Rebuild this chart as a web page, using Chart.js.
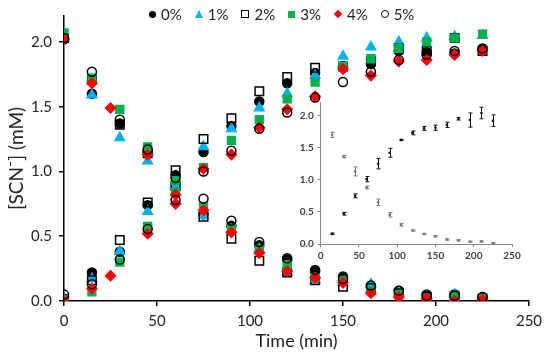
<!DOCTYPE html>
<html>
<head>
<meta charset="utf-8">
<script src="https://cdn.jsdelivr.net/npm/chart.js@4"></script>
<style>
  body { margin: 0; background: #fff; }
  #wrap { position: relative; width: 550px; height: 356px; }
  #main { position: absolute; left: 0; top: 0; }
  #inset { position: absolute; left: 280px; top: 92px; }
  #legend {
    position: absolute; left: 149px; top: 4px; display: flex; gap: 13px;
    font: 15px Lato, 'Open Sans', sans-serif; color: #222; line-height: 20px;
  }
  #legend .item { display: flex; align-items: center; }
  #legend .mk { width: 8px; height: 8px; margin-right: 5px; box-sizing: border-box; }
</style>
</head>
<body>
<div id="wrap">
  <canvas id="main" width="550" height="356"></canvas>
  <canvas id="inset" width="260" height="172"></canvas>
  <div id="legend"></div>
</div>
<script>
// sampling times (min); the 4% run has its third sample at 25 min
const time = [0, 15, 30, 45, 60, 75, 90, 105, 120, 135, 150, 165, 180, 195, 210, 225];
const time4 = [0, 15, 25, 45, 60, 75, 90, 105, 120, 135, 150, 165, 180, 195, 210, 225];

const labels = ["0%", "1%", "2%", "3%", "4%", "5%"];

// [SCN-] (mM), decaying branch
const decay0 = [2.02, 1.60, 1.37, 1.15, 0.97, 0.67, 0.58, 0.43, 0.32, 0.23, 0.19, 0.11, 0.08, 0.05, 0.05, 0.03];
const decay1 = [2.03, 1.59, 1.26, 1.08, 0.90, 0.66, 0.55, 0.40, 0.22, 0.16, 0.14, 0.13, 0.07, 0.04, 0.05, 0.02];
const decay2 = [2.03, 1.71, 1.36, 1.14, 1.01, 0.65, 0.48, 0.31, 0.22, 0.16, 0.11, 0.10, 0.06, 0.03, 0.04, 0.02];
const decay3 = [2.07, 1.72, 1.48, 1.19, 0.93, 0.73, 0.56, 0.40, 0.28, 0.18, 0.16, 0.08, 0.05, 0.02, 0.04, 0.02];
const decay4 = [2.02, 1.68, 1.49, 1.13, 0.82, 0.70, 0.53, 0.37, 0.23, 0.18, 0.14, 0.06, 0.03, 0.02, 0.00, 0.01];
const decay5 = [2.03, 1.77, 1.40, 1.17, 0.95, 0.79, 0.62, 0.455, 0.33, 0.24, 0.17, 0.12, 0.08, 0.04, 0.04, 0.03];

// [SCN-] (mM), forming branch
const form0 = [0.02, 0.22, 0.38, 0.74, 0.90, 1.15, 1.35, 1.54, 1.68, 1.76, 1.81, 1.83, 1.93, 1.92, 1.91, 1.94];
const form1 = [0.01, 0.17, 0.385, 0.69, 0.88, 1.19, 1.33, 1.49, 1.60, 1.74, 1.89, 1.96, 2.00, 2.03, 2.04, 2.05];
const form2 = [0.01, 0.16, 0.47, 0.76, 0.89, 1.25, 1.41, 1.62, 1.73, 1.80, 1.81, 1.85, 1.95, 1.93, 2.03, 1.93];
const form3 = [0.01, 0.07, 0.30, 0.575, 0.84, 1.03, 1.24, 1.40, 1.56, 1.69, 1.81, 1.87, 1.95, 2.00, 2.03, 2.06];
const form4 = [0.00, 0.095, 0.195, 0.52, 0.75, 1.02, 1.13, 1.34, 1.48, 1.58, 1.79, 1.74, 1.85, 1.86, 1.90, 1.93];
const form5 = [0.05, 0.13, 0.32, 0.555, 0.78, 1.00, 1.16, 1.33, 1.455, 1.57, 1.69, 1.77, 1.86, 1.90, 1.93, 1.95];

// inset: averages with error bars
const insetTime = [15, 30, 45, 60, 75, 90, 105, 120, 135, 150, 165, 180, 195, 210, 225];
const insetForm = [0.16, 0.47, 0.75, 1.01, 1.25, 1.42, 1.62, 1.73, 1.80, 1.81, 1.855, 1.95, 1.93, 2.04, 1.92];
const insetFormErr = [0.01, 0.02, 0.03, 0.04, 0.08, 0.07, 0.01, 0.03, 0.03, 0.04, 0.04, 0.02, 0.11, 0.09, 0.09];
const insetDecay = [1.70, 1.36, 1.13, 0.88, 0.65, 0.455, 0.30, 0.21, 0.155, 0.12, 0.07, 0.057, 0.036, 0.04, 0.015];
const insetDecayErr = [0.04, 0.02, 0.07, 0.02, 0.05, 0.035, 0.02, 0.01, 0.01, 0.01, 0.01, 0.01, 0.01, 0.01, 0.005];

const FONT = "Lato, 'Open Sans', sans-serif";
const TXT = "#222";

const decays = [decay0, decay1, decay2, decay3, decay4, decay5];
const forms = [form0, form1, form2, form3, form4, form5];
const styles = [
  { pointStyle: "circle", radius: 4.5, bg: "#000", border: "#000" },
  { pointStyle: "triangle", radius: 5.5, bg: "#00B0F0", border: "#00B0F0" },
  { pointStyle: "rect", radius: 6, bg: "rgba(0,0,0,0)", border: "#000" },
  { pointStyle: "rect", radius: 5.5, bg: "#00B050", border: "#00B050" },
  { pointStyle: "rectRot", radius: 5, bg: "#FF0000", border: "#FF0000" },
  { pointStyle: "circle", radius: 4.5, bg: "rgba(0,0,0,0)", border: "#000" },
];

// css for the html legend markers, same order as labels
const legendCss = [
  "background:#000;border-radius:50%;width:7px;height:7px",
  "width:0;height:0;border-left:4.5px solid transparent;border-right:4.5px solid transparent;border-bottom:8px solid #00B0F0",
  "border:1.7px solid #000",
  "background:#00B050;width:7px;height:7px",
  "background:#FF0000;width:6px;height:6px;transform:rotate(45deg);margin-left:1px;margin-right:6px",
  "border:1.5px solid #000;border-radius:50%",
];

document.getElementById("legend").innerHTML = labels.map((l, i) =>
  `<span class="item"><span class="mk" style="${legendCss[i]}"></span>${l}</span>`).join("");

function pts(ts, vs) {
  return vs.map((v, i) => ({ x: ts[i], y: v }));
}

function makeSet(i, values, label) {
  const s = styles[i];
  return {
    label,
    data: pts(i === 4 ? time4 : time, values),
    pointStyle: s.pointStyle,
    pointRadius: s.radius,
    backgroundColor: s.bg,
    borderColor: s.border,
    borderWidth: 1.5,
    order: 5 - i,
  };
}

const datasets = [];
labels.forEach((l, i) => datasets.push(makeSet(i, decays[i], l)));
labels.forEach((l, i) => datasets.push(makeSet(i, forms[i], "")));

const halfSteps = scale => {
  scale.ticks = scale.ticks.filter(t => Math.abs(t.value * 2 - Math.round(t.value * 2)) < 1e-6);
};

new Chart(document.getElementById("main"), {
  type: "scatter",
  data: { datasets },
  options: {
    responsive: false,
    animation: false,
    layout: { padding: { top: 7, right: 21, left: 0, bottom: 0 } },
    plugins: { tooltip: { enabled: false }, legend: { display: false } },
    scales: {
      x: {
        type: "linear",
        min: 0,
        max: 250,
        afterFit: s => { s.height = 55; },
        border: { color: "#000", width: 1.5 },
        grid: { drawOnChartArea: false, tickLength: 5, color: "#000", lineWidth: 1.5 },
        ticks: { stepSize: 50, padding: 6, color: TXT, font: { family: FONT, size: 15 } },
        title: { display: true, text: "Time (min)", color: TXT, padding: { bottom: 4 }, font: { family: FONT, size: 18 } },
      },
      y: {
        min: 0,
        max: 2.2,
        afterBuildTicks: halfSteps,
        afterFit: s => { s.width = 64; },
        border: { color: "#000", width: 1.5 },
        grid: { drawOnChartArea: false, tickLength: 5, color: "#000", lineWidth: 1.5 },
        ticks: { stepSize: 0.5, padding: 7, color: TXT, font: { family: FONT, size: 15 }, callback: v => v.toFixed(1) },
        title: { display: true, text: "[SCN⁻] (mM)", color: TXT, padding: { top: 5 }, font: { family: FONT, size: 19 } },
      },
    },
  },
});

// vertical error bars for the inset, placed through the chart's scales
const errorBars = {
  id: "errorBars",
  afterDatasetsDraw(chart) {
    const { ctx, scales: { x, y } } = chart;
    chart.data.datasets.forEach(ds => {
      ctx.save();
      ctx.strokeStyle = ds.borderColor;
      ctx.lineWidth = 1;
      ds.data.forEach((p, i) => {
        const px = Math.round(x.getPixelForValue(p.x)) + 0.5;
        const top = y.getPixelForValue(p.y + ds.errors[i]);
        const bot = y.getPixelForValue(p.y - ds.errors[i]);
        ctx.beginPath();
        ctx.moveTo(px, top); ctx.lineTo(px, bot);
        ctx.moveTo(px - 2, top); ctx.lineTo(px + 2, top);
        ctx.moveTo(px - 2, bot); ctx.lineTo(px + 2, bot);
        ctx.stroke();
      });
      ctx.restore();
    });
  },
};

const insetTick = { family: FONT, size: 10, weight: "bold" };

new Chart(document.getElementById("inset"), {
  type: "scatter",
  data: {
    datasets: [
      { data: pts(insetTime, insetForm), errors: insetFormErr, pointRadius: 1.3, backgroundColor: "#111", borderColor: "#111", borderWidth: 0 },
      { data: pts(insetTime, insetDecay), errors: insetDecayErr, pointRadius: 1.3, backgroundColor: "#777", borderColor: "#777", borderWidth: 0 },
    ],
  },
  plugins: [errorBars],
  options: {
    responsive: false,
    animation: false,
    layout: { padding: { top: 10.7, right: 28, left: 0, bottom: 0 } },
    plugins: { legend: { display: false }, tooltip: { enabled: false } },
    scales: {
      x: {
        type: "linear",
        min: 0,
        max: 250,
        afterFit: s => { s.height = 20; },
        border: { color: "#888", width: 1 },
        grid: { drawOnChartArea: false, tickLength: 3, color: "#888" },
        ticks: { stepSize: 50, padding: 3, color: "#404040", font: insetTick },
      },
      y: {
        min: 0,
        max: 2.2,
        afterBuildTicks: halfSteps,
        afterFit: s => { s.width = 40.7; },
        border: { color: "#888", width: 1 },
        grid: { drawOnChartArea: false, tickLength: 3, color: "#888" },
        ticks: { stepSize: 0.5, padding: 4, color: "#404040", font: insetTick, callback: v => v.toFixed(1) },
      },
    },
  },
});
</script>
</body>
</html>
